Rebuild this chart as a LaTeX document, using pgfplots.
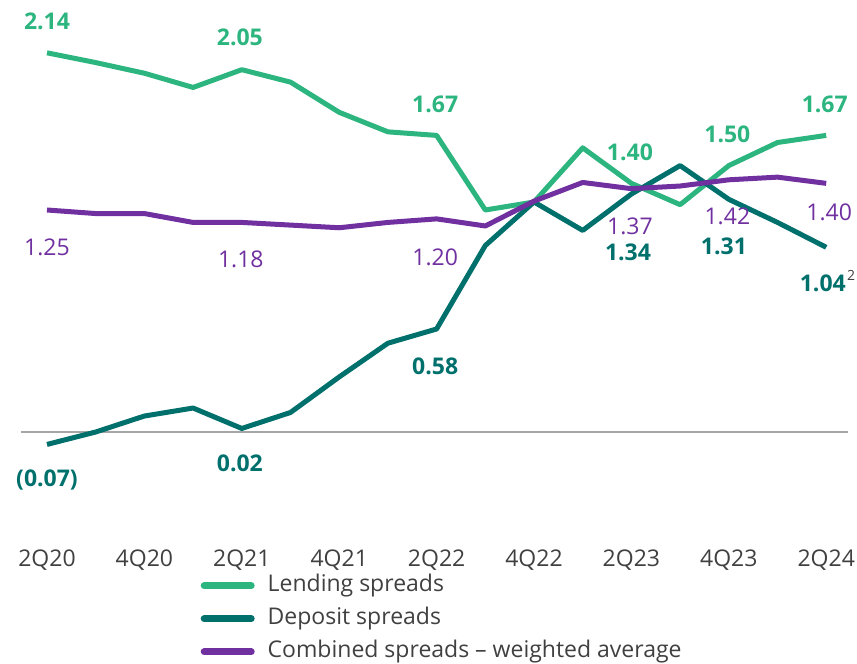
\documentclass[border=0pt]{standalone}
\usepackage{pgfplots}
\pgfplotsset{compat=1.18}
\usepackage{fontspec}
\setmainfont{Open Sans}
\definecolor{lend}{HTML}{2CB57F}
\definecolor{dep}{HTML}{00706C}
\definecolor{comb}{HTML}{7030A0}
\definecolor{txt}{HTML}{404040}
\begin{document}
\begin{tikzpicture}
\begin{axis}[
  x=48.7bp, y=177.6bp,
  xmin=-0.53, xmax=16.45,
  ymin=-0.755, ymax=2.43,
  clip=false,
  axis line style={draw=none},
  tick style={draw=none},
  ytick=\empty,
  xtick={0,2,...,16},
  xticklabels={2Q20,4Q20,2Q21,4Q21,2Q22,4Q22,2Q23,4Q23,2Q24},
  xticklabel style={anchor=base, font=\fontsize{23bp}{27bp}\selectfont, text=txt},
  legend style={at={(axis cs:3.152,-0.80)}, anchor=north west, draw=none, fill=none,
    inner sep=0pt, row sep=10bp, column sep=11bp, font=\fontsize{23bp}{27bp}\selectfont, text=txt,
    nodes={inner ysep=0pt, text height=17bp, text depth=6bp}},
  legend cell align=left,
  legend image code/.code={\draw[#1, line width=7bp, line cap=round] (0bp,0bp) -- (47bp,0bp);},
  every axis plot/.append style={line width=5bp, line join=round},
]
\addplot[gray!70, line width=1.5bp, forget plot] coordinates {(-0.53,0) (16.45,0)};
\addplot[lend] coordinates {
(0,2.135) (1,2.08) (2,2.02) (3,1.94) (4,2.04) (5,1.97) (6,1.80) (7,1.69) (8,1.67)
(9,1.25) (10,1.295) (11,1.60) (12,1.40) (13,1.28) (14,1.50) (15,1.63) (16,1.67)};
\addlegendentry{Lending spreads}
\addplot[dep] coordinates {
(0,-0.07) (1,0.0) (2,0.09) (3,0.135) (4,0.02) (5,0.11) (6,0.31) (7,0.50) (8,0.58)
(9,1.05) (10,1.295) (11,1.135) (12,1.34) (13,1.50) (14,1.31) (15,1.18) (16,1.04)};
\addlegendentry{Deposit spreads}
\addplot[comb] coordinates {
(0,1.25) (1,1.23) (2,1.23) (3,1.18) (4,1.18) (5,1.165) (6,1.15) (7,1.18) (8,1.20)
(9,1.16) (10,1.30) (11,1.405) (12,1.37) (13,1.385) (14,1.42) (15,1.435) (16,1.40)};
\addlegendentry{Combined spreads -- weighted average}
\begin{scope}[every node/.style={font=\fontsize{23bp}{27bp}\selectfont\bfseries, inner sep=0pt}]
\node[text=lend] at (axis cs:0,2.314) {2.14};
\node[text=lend] at (axis cs:3.96,2.224) {2.05};
\node[text=lend] at (axis cs:7.97,1.847) {1.67};
\node[text=lend] at (axis cs:11.97,1.577) {1.40};
\node[text=lend] at (axis cs:13.97,1.678) {1.50};
\node[text=lend] at (axis cs:15.97,1.847) {1.67};
\node[text=dep] at (axis cs:0,-0.27) {(0.07)};
\node[text=dep] at (axis cs:3.96,-0.175) {0.02};
\node[text=dep] at (axis cs:7.97,0.372) {0.58};
\node[text=dep] at (axis cs:11.93,1.013) {1.34};
\node[text=dep] at (axis cs:13.90,1.047) {1.31};
\node[text=dep] at (axis cs:15.93,0.839) {1.04};
\end{scope}
\begin{scope}[every node/.style={font=\fontsize{23bp}{27bp}\selectfont, inner sep=0pt, text=comb}]
\node at (axis cs:0,1.042) {1.25};
\node at (axis cs:3.98,0.974) {1.18};
\node at (axis cs:7.97,0.985) {1.20};
\node at (axis cs:11.97,1.16) {1.37};
\node at (axis cs:13.97,1.216) {1.42};
\node at (axis cs:16.06,1.239) {1.40};
\end{scope}
\node[font=\fontsize{14bp}{16bp}\selectfont, inner sep=0pt, text=txt] at (axis cs:16.51,0.884) {2};
\coordinate (bbSW) at (axis cs:-0.9651,-1.3007);
\coordinate (bbNE) at (axis cs:16.632,2.4324);
\end{axis}
\pgfresetboundingbox
\useasboundingbox (bbSW) rectangle (bbNE);
\end{tikzpicture}
\end{document}
